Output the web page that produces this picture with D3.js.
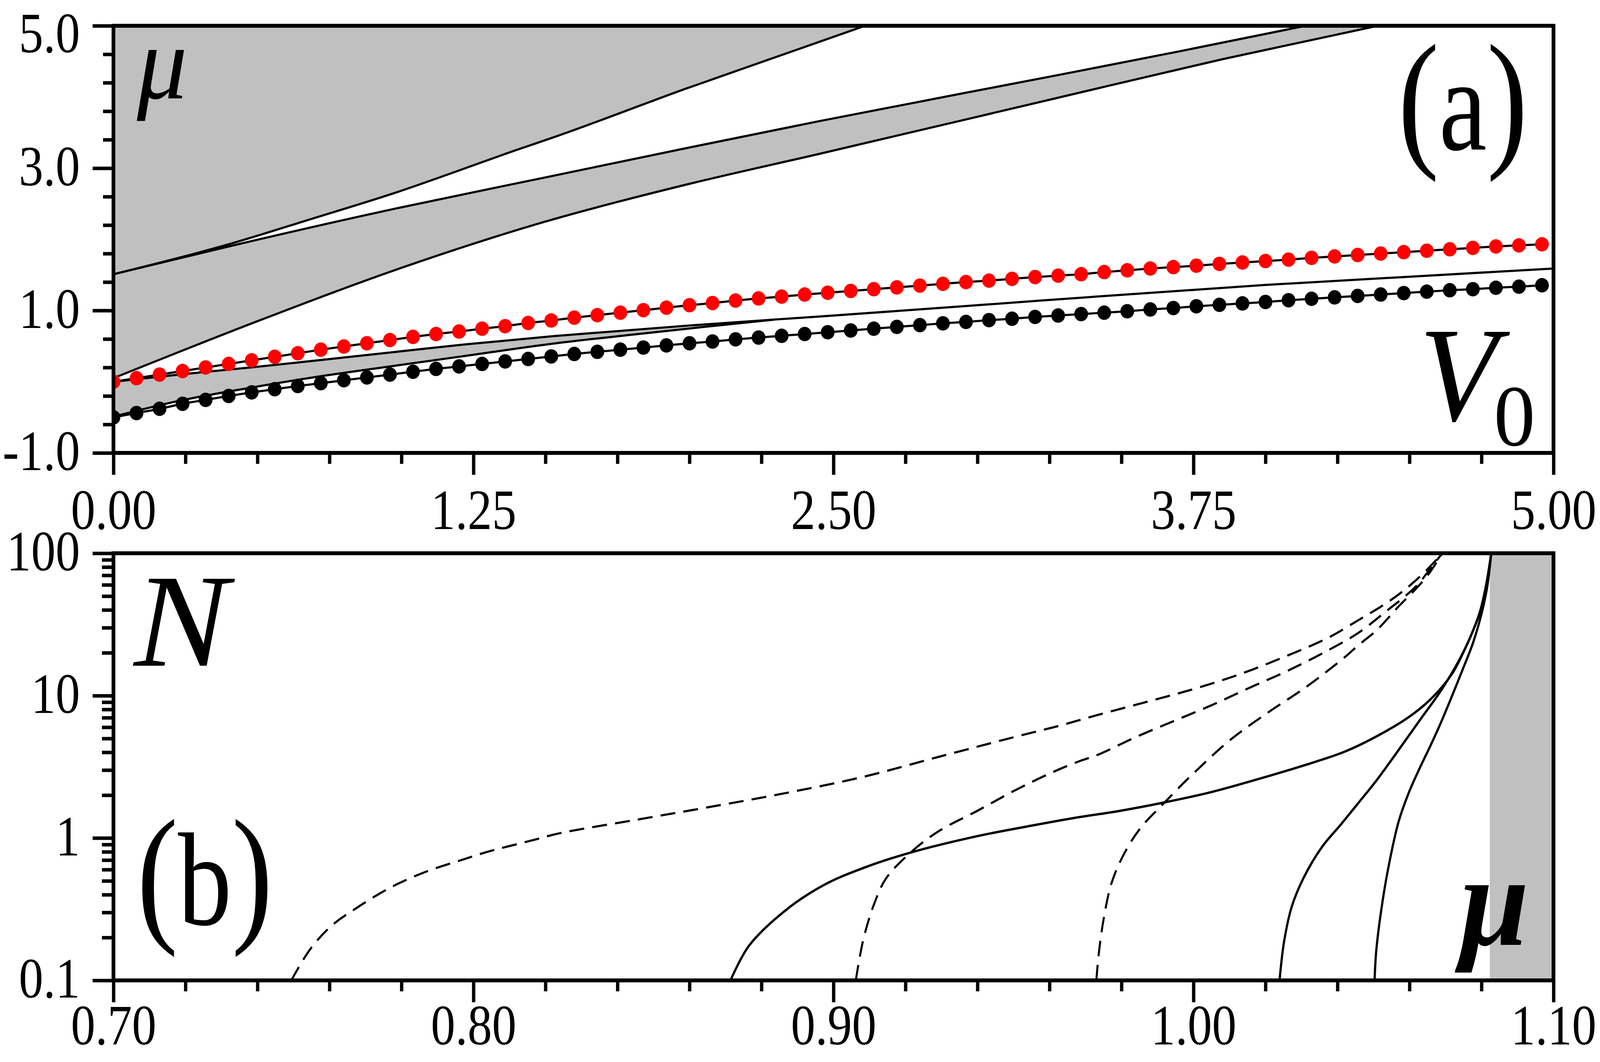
<!DOCTYPE html>
<html><head><meta charset="utf-8">
<script src="https://cdn.jsdelivr.net/npm/d3@7"></script>
<style>html,body{margin:0;padding:0;background:#fff;overflow:hidden;} svg{display:block;width:100vw;height:100vh;}</style>
</head><body>
<svg id="chart" viewBox="0 0 4301 2720" preserveAspectRatio="none"></svg>
<script>
// ---------------- DATA ----------------
// panel (a): x positions of the dotted series
const dotX = [0,0.08,0.16,0.24,0.32,0.40,0.48,0.56,0.64,0.72,0.80,0.88,0.96,1.04,1.12,1.20,1.28,1.36,1.44,1.52,1.60,1.68,1.76,1.84,1.92,2.00,2.08,2.16,2.24,2.32,2.40,2.48,2.56,2.64,2.72,2.80,2.88,2.96,3.04,3.12,3.20,3.28,3.36,3.44,3.52,3.60,3.68,3.76,3.84,3.92,4.00,4.08,4.16,4.24,4.32,4.40,4.48,4.56,4.64,4.72,4.80,4.88,4.96];
const redMu = [0.00,0.05,0.10,0.15,0.20,0.25,0.30,0.35,0.40,0.45,0.495,0.54,0.585,0.63,0.67,0.705,0.745,0.78,0.825,0.86,0.90,0.935,0.97,1.005,1.04,1.075,1.105,1.14,1.17,1.195,1.225,1.25,1.275,1.30,1.325,1.35,1.375,1.40,1.42,1.445,1.47,1.49,1.51,1.54,1.565,1.59,1.61,1.63,1.655,1.675,1.695,1.715,1.74,1.76,1.78,1.80,1.82,1.84,1.86,1.88,1.90,1.915,1.93];
const blackMu = [-0.50,-0.44,-0.38,-0.31,-0.255,-0.20,-0.15,-0.105,-0.06,-0.02,0.02,0.06,0.10,0.14,0.18,0.215,0.25,0.285,0.32,0.355,0.39,0.42,0.45,0.48,0.51,0.54,0.565,0.595,0.62,0.645,0.67,0.695,0.72,0.745,0.77,0.795,0.82,0.84,0.865,0.885,0.91,0.93,0.95,0.97,0.99,1.015,1.035,1.06,1.08,1.10,1.12,1.145,1.165,1.185,1.205,1.225,1.245,1.265,1.285,1.30,1.32,1.335,1.355];
// band edges of panel (a): [V0, mu]
const edge1 = [[0,1.51],[0.40,1.93],[0.69,2.29],[0.96,2.63],[1.41,3.27],[1.54,3.45],[1.99,4.12],[2.30,4.56],[2.61,5.0]];
const edge2 = [[0,1.51],[0.40,1.90],[1.0,2.45],[1.5,2.87],[2.0,3.29],[2.45,3.66],[3.27,4.30],[3.70,4.64],[4.14,5.0]];
const edge3 = [[0,0.05],[0.5,0.85],[1.0,1.60],[1.5,2.25],[2.0,2.78],[2.45,3.20],[3.27,3.98],[3.85,4.53],[4.39,5.0]];
const edge4 = [[0,0.0],[0.226,0.10],[0.474,0.20],[0.721,0.305],[0.968,0.414],[1.215,0.522],[1.53,0.641],[2.0,0.79],[2.30,0.875],[2.45,0.915],[3.22,1.14],[4.0,1.36],[5.0,1.59]];
const edge5 = [[0,-0.49],[0.226,-0.27],[0.474,-0.085],[0.721,0.078],[0.968,0.219],[1.215,0.359],[1.53,0.537],[1.80,0.66],[2.05,0.77],[2.30,0.875]];
const xTicksA = [0,1.25,2.5,3.75,5];
const xMinorA = [0.25,0.5,0.75,1.0,1.5,1.75,2.0,2.25,2.75,3.0,3.25,3.5,4.0,4.25,4.5,4.75];
const yTicksA = [-1,1,3,5];
const yMinorA = [-0.6,-0.2,0.2,0.6,1.4,1.8,2.2,2.6,3.4,3.8,4.2,4.6];

// panel (b): [mu, N]
const dash1 = [[0.7494,0.1],[0.7546,0.165],[0.7605,0.241],[0.7674,0.321],[0.7773,0.454],[0.7872,0.585],[0.7971,0.706],[0.8039,0.80],[0.8168,0.97],[0.8239,1.08],[0.8450,1.34],[0.8661,1.66],[0.8872,2.08],[0.9083,2.69],[0.9293,3.72],[0.9504,5.13],[0.9630,6.17],[0.9735,7.33],[0.9867,9.0],[0.9999,11.1],[1.0131,14.2],[1.0263,19.2],[1.0374,25.5],[1.0463,34.5],[1.0522,42.4],[1.0570,51.4],[1.0611,62.4],[1.0652,78.2],[1.0691,100]];
const dash2 = [[0.9062,0.1],[0.9083,0.194],[0.9114,0.35],[0.9146,0.52],[0.9214,0.79],[0.9293,1.12],[0.9399,1.55],[0.9504,2.16],[0.9610,2.91],[0.9681,3.45],[0.9735,3.85],[0.9841,5.13],[0.9946,6.64],[1.0052,8.6],[1.0157,11.4],[1.0263,15.0],[1.0369,20.5],[1.0457,27.5],[1.0540,40.0],[1.0587,49.7],[1.0623,60.3],[1.0658,78],[1.0691,100]];
const dash3 = [[0.9730,0.1],[0.9738,0.163],[0.9751,0.275],[0.9772,0.479],[0.9804,0.747],[0.9851,1.16],[0.9920,1.78],[0.9999,2.83],[1.0104,4.93],[1.0210,7.7],[1.0315,11.6],[1.0421,18.7],[1.0457,22.5],[1.0510,29.0],[1.0570,42.4],[1.0611,53.9],[1.0652,70.8],[1.0691,100]];
const solid1 = [[0.8714,0.1],[0.8766,0.176],[0.8872,0.318],[0.8977,0.473],[0.9083,0.616],[0.9214,0.79],[0.9399,1.03],[0.9557,1.23],[0.9681,1.40],[0.9788,1.54],[0.9920,1.78],[1.0052,2.11],[1.0210,2.73],[1.0342,3.45],[1.0421,4.05],[1.0510,5.2],[1.0599,7.1],[1.0658,9.4],[1.0718,14.2],[1.0747,19.5],[1.0777,28.8],[1.0807,46.6],[1.0819,68.7],[1.0827,100]];
const solid2 = [[1.0239,0.1],[1.0252,0.19],[1.0273,0.33],[1.0305,0.52],[1.0357,0.866],[1.0410,1.25],[1.0457,1.75],[1.0510,2.57],[1.0570,4.16],[1.0629,6.74],[1.0688,10.9],[1.0735,17.2],[1.0765,24.5],[1.0795,38.4],[1.0812,58.5],[1.0827,100]];
const solid3 = [[1.0503,0.1],[1.0508,0.165],[1.0528,0.40],[1.0546,0.713],[1.0570,1.31],[1.0599,2.11],[1.0629,3.12],[1.0658,4.44],[1.0688,6.53],[1.0718,9.93],[1.0747,15.1],[1.0777,23.7],[1.0801,38.4],[1.0816,58.5],[1.0827,100]];
const muEdge = [1.0823, 1.10];
const xTicksB = [0.70,0.80,0.90,1.00,1.10];
const xMinorB = [0.72,0.74,0.76,0.78,0.82,0.84,0.86,0.88,0.92,0.94,0.96,0.98,1.02,1.04,1.06,1.08];
const yTicksB = [0.1,1,10,100];
const yMinorB = [0.2,0.3,0.4,0.5,0.6,0.7,0.8,0.9,2,3,4,5,6,7,8,9,20,30,40,50,60,70,80,90];

// ---------------- DRAWING ----------------
const FONT = '"Liberation Serif","Times New Roman","DejaVu Serif",serif';
const GRAY = '#c0c0c0';
const svg = d3.select('#chart').style('font-family', FONT);
svg.append('rect').attr('width',4301).attr('height',2720).attr('fill','#fff');

const L = 305, R = 4176;
const xA = d3.scaleLinear().domain([0,5]).range([L,R]);
const yA = d3.scaleLinear().domain([-1,5]).range([1160,66]);
const xB = d3.scaleLinear().domain([0.7,1.1]).range([L,R]);
const yB = d3.scaleLog().domain([0.1,100]).range([2511,1417]);

const defs = svg.append('defs');
defs.append('clipPath').attr('id','clipA').append('rect')
  .attr('x',L).attr('y',yA(5)).attr('width',R-L).attr('height',yA(-1)-yA(5));
defs.append('clipPath').attr('id','clipB').append('rect')
  .attr('x',L).attr('y',yB(100)).attr('width',R-L).attr('height',yB(0.1)-yB(100));

// ---- panel (a)
const gA = svg.append('g').attr('clip-path','url(#clipA)');
const lineA = d3.line().x(d=>xA(d[0])).y(d=>yA(d[1])).curve(d3.curveMonotoneX);
const asL = p => p.replace(/^M/, 'L');

gA.append('path').attr('fill',GRAY)
  .attr('d', 'M' + xA(0) + ',' + yA(5) + asL(lineA(edge1)) + 'Z');
gA.append('path').attr('fill',GRAY)
  .attr('d', lineA(edge2) + asL(lineA(edge3.slice().reverse())) + 'Z');
const edge4Part = edge4.filter(d => d[0] <= 2.30);
gA.append('path').attr('fill',GRAY)
  .attr('d', lineA(edge4Part) + asL(lineA(edge5.slice().reverse())) + 'Z');

[edge1, edge2, edge3, edge4, edge5].forEach(e => {
  gA.append('path').attr('d', lineA(e)).attr('fill','none')
    .attr('stroke','#000').attr('stroke-width',5.5);
});

const redPts = dotX.map((x,i)=>[x, redMu[i]]);
const blackPts = dotX.map((x,i)=>[x, blackMu[i]]);
[redPts, blackPts].forEach(pts => {
  gA.append('path').attr('d', lineA(pts)).attr('fill','none')
    .attr('stroke','#000').attr('stroke-width',5.5);
});
gA.selectAll('circle.red').data(redPts).join('circle').attr('class','red')
  .attr('cx',d=>xA(d[0])).attr('cy',d=>yA(d[1])).attr('r',18.5).attr('fill','#ff0000');
gA.selectAll('circle.blk').data(blackPts).join('circle').attr('class','blk')
  .attr('cx',d=>xA(d[0])).attr('cy',d=>yA(d[1])).attr('r',18.5).attr('fill','#000');

// ---- panel (b)
const gB = svg.append('g').attr('clip-path','url(#clipB)');
const lineB = d3.line().x(d=>xB(d[0])).y(d=>yB(d[1])).curve(d3.curveCatmullRom.alpha(0.5));
gB.append('rect').attr('x',xB(muEdge[0])).attr('y',yB(100))
  .attr('width',xB(muEdge[1])-xB(muEdge[0])).attr('height',yB(0.1)-yB(100)).attr('fill',GRAY);
[dash1, dash2, dash3].forEach(c => {
  gB.append('path').attr('d', lineB(c)).attr('fill','none').attr('stroke','#000')
    .attr('stroke-width',5.5).attr('stroke-dasharray','40,22');
});
[solid1, solid2, solid3].forEach(c => {
  gB.append('path').attr('d', lineB(c)).attr('fill','none').attr('stroke','#000')
    .attr('stroke-width',6);
});

// ---- axes
const TICKW = 9, FS = 146, SX = 0.9;
function styleAxis(g){
  g.select('.domain').remove();
  g.selectAll('.tick line').attr('stroke','#000').attr('stroke-width',TICKW);
  g.selectAll('text').attr('fill','#000').style('font-size',FS+'px').style('font-family',FONT);
}
function bottomAxis(x, y0, major, minor, fmt, base){
  const gM = svg.append('g').attr('transform','translate(0,'+y0+')')
    .call(d3.axisBottom(x).tickValues(major).tickSize(56).tickFormat(fmt));
  styleAxis(gM);
  gM.selectAll('text').attr('y',base).attr('dy',0).attr('transform','scale('+SX+',1)');
  const gm = svg.append('g').attr('transform','translate(0,'+y0+')')
    .call(d3.axisBottom(x).tickValues(minor).tickSize(28).tickFormat(''));
  styleAxis(gm);
}
function leftAxis(y, major, minor, fmt, minorLen){
  const gM = svg.append('g').attr('transform','translate('+L+',0)')
    .call(d3.axisLeft(y).tickValues(major).tickSize(56).tickFormat(fmt));
  styleAxis(gM);
  gM.selectAll('text').attr('x',-90/SX).attr('text-anchor','end')
    .attr('transform','scale('+SX+',1)')
    .attr('dy', d => (y(d) < 100 ? '0.46em' : '0.30em'));
  const gm = svg.append('g').attr('transform','translate('+L+',0)')
    .call(d3.axisLeft(y).tickValues(minor).tickSize(minorLen).tickFormat(''));
  styleAxis(gm);
}
bottomAxis(xA, yA(-1), xTicksA, xMinorA, d=>d.toFixed(2), 195);
leftAxis(yA, yTicksA, yMinorA, d=>d.toFixed(1), 28);
bottomAxis(xB, yB(0.1), xTicksB, xMinorB, d=>d.toFixed(2), 164);
leftAxis(yB, yTicksB, yMinorB, d=>String(d), 31);

// frames
svg.append('rect').attr('x',L).attr('y',yA(5)).attr('width',R-L).attr('height',yA(-1)-yA(5))
  .attr('fill','none').attr('stroke','#000').attr('stroke-width',10);
svg.append('rect').attr('x',L).attr('y',yB(100)).attr('width',R-L).attr('height',yB(0.1)-yB(100))
  .attr('fill','none').attr('stroke','#000').attr('stroke-width',10);

// ---- annotations
function label(x, y, sx, parts, anchor){
  const t = svg.append('text').attr('transform','translate('+x+','+y+') scale('+sx+',1)')
    .attr('text-anchor', anchor || 'start').attr('fill','#000').style('font-family',FONT);
  parts.forEach(p => {
    const s = t.append('tspan').text(p.t).style('font-size',p.fs+'px');
    if (p.it) s.style('font-style','italic');
    if (p.bold) s.style('font-weight','bold');
    if (p.dy) s.attr('dy',p.dy);
    if (p.dx) s.attr('dx',p.dx);
  });
  return t;
}
label(4107, 383, 0.85, [{t:'(',fs:390},{t:'a',fs:340},{t:')',fs:390}], 'end');
label(368, 2368, 0.85, [{t:'(',fs:390},{t:'b',fs:340},{t:')',fs:390}], 'start');
label(368, 252, 1, [{t:'μ',fs:270,it:true}]);
label(360, 1705, 1.12, [{t:'N',fs:340,it:true}]);
label(3815, 1076, 1, [{t:'V',fs:345,it:true},{t:'0',fs:222,dy:65,dx:-10}]);
label(3925, 2420, 1, [{t:'μ',fs:333,it:true,bold:true}]);
</script>
</body></html>
